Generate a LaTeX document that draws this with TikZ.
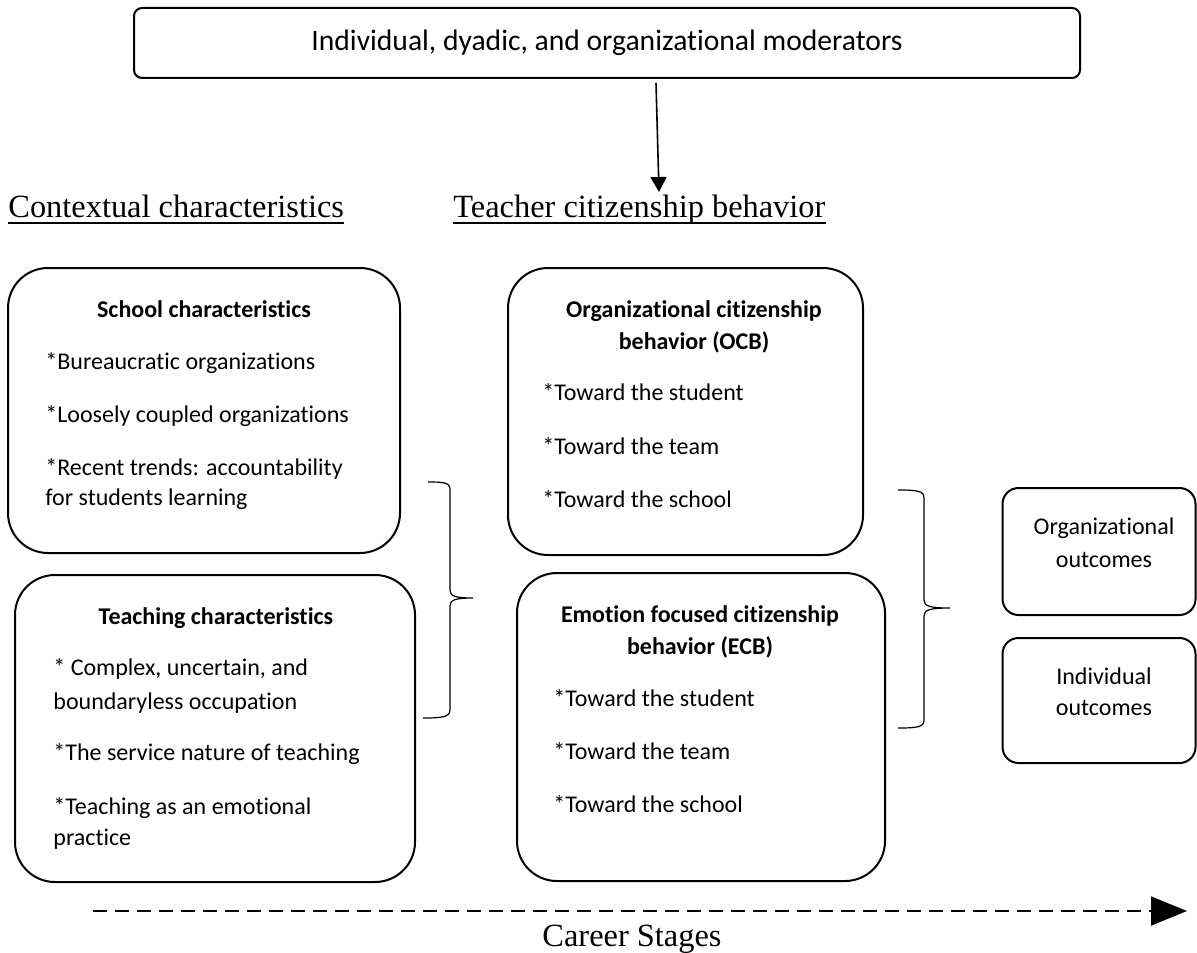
\documentclass[tikz,border=0pt]{standalone}
\usepackage{fontspec}
\setmainfont{Carlito}[Ligatures=NoCommon]
\newfontfamily\timesfont{Liberation Serif}
\usetikzlibrary{arrows.meta}

\tikzset{
  roundbox/.style={draw, line width=1pt, rounded corners=20pt, inner sep=0pt},
  outbox/.style={draw, line width=1pt, rounded corners=8pt, inner sep=0pt,
    minimum width=96.5pt},
  item/.style={anchor=base west, inner sep=0pt, font=\fontsize{12}{16}\selectfont},
  boxtitle/.style={anchor=base, inner sep=0pt, font=\fontsize{12}{16}\selectfont\bfseries},
  outtext/.style={anchor=base, inner sep=0pt, font=\fontsize{12}{16}\selectfont},
  heading/.style={anchor=base west, inner sep=0pt, font=\fontsize{16.2}{19}\selectfont\timesfont},
  bracket/.style={line width=0.6pt},
}

\begin{document}
\begin{tikzpicture}[x=0.5pt, y=-0.5pt]
    \useasboundingbox (0,0) rectangle (1197,952);

    % moderators
    \node[draw, line width=1pt, rounded corners=4pt, minimum width=473pt, minimum height=35pt,
      font=\fontsize{14.8}{17}\selectfont] (mod) at (607,43) {Individual, dyadic, and organizational moderators};
    \coordinate (modout) at (656,83);
    \coordinate (modin) at (659,192);
    \draw[line width=0.8pt, -{Triangle[length=7.5pt,width=8pt]}] (modout) -- (modin);

    % headings
    \node[heading] (ctx) at (8,218) {Contextual characteristics};
    \node[heading] (tcb) at (453,218) {Teacher citizenship behavior};
    \draw[line width=0.6pt] ([yshift=-2.5pt]ctx.base west) -- ([yshift=-2.5pt]ctx.base east);
    \draw[line width=0.6pt] ([yshift=-2.5pt]tcb.base west) -- ([yshift=-2.5pt]tcb.base east);

    % contextual boxes
    \node[roundbox, minimum width=196pt, minimum height=142.5pt] (school) at (204,410.5) {};
    \node[boxtitle] (schooltitle) at (204,317) {School characteristics};
    \node[item] (sc1) at (45,369) {*Bureaucratic organizations};
    \node[item] (sc2) at (45,422) {*Loosely coupled organizations};
    \node[item] (sc3) at (45,475) {*Recent trends: accountability};
    \node[item] (sc3b) at (45,505) {for students learning};

    \node[roundbox, minimum width=200pt, minimum height=153.5pt] (teach) at (215,728.5) {};
    \node[boxtitle] (teachtitle) at (216,624) {Teaching characteristics};
    \node[item] (tc1) at (53,675) {* Complex, uncertain, and};
    \node[item] (tc1b) at (53,709) {boundaryless occupation};
    \node[item] (tc2) at (53,760) {*The service nature of teaching};
    \node[item] (tc3) at (53,814) {*Teaching as an emotional};
    \node[item] (tc3b) at (53,845) {practice};

    % citizenship boxes
    \node[roundbox, minimum width=177.5pt, minimum height=143.5pt] (ocb) at (685.5,411.5) {};
    \node[boxtitle] (ocbtitle) at (694,317) {Organizational citizenship};
    \node[boxtitle] (ocbtitleb) at (694,349) {behavior (OCB)};
    \node[item] (ocb1) at (542,400) {*Toward the student};
    \node[item] (ocb2) at (542,454) {*Toward the team};
    \node[item] (ocb3) at (542,507) {*Toward the school};

    \node[roundbox, minimum width=184pt, minimum height=154pt] (ecb) at (701,727) {};
    \node[boxtitle] (ecbtitle) at (700,622) {Emotion focused citizenship};
    \node[boxtitle] (ecbtitleb) at (700,654) {behavior (ECB)};
    \node[item] (ecb1) at (553,706) {*Toward the student};
    \node[item] (ecb2) at (553,759) {*Toward the team};
    \node[item] (ecb3) at (553,812) {*Toward the school};

    % outcomes
    \node[outbox, minimum height=63.5pt] (orgout) at (1099,551.5) {};
    \node[outtext] (orgtext) at (1104,534) {Organizational};
    \node[outtext] (orgtextb) at (1104,567) {outcomes};
    \node[outbox, minimum height=62.5pt] (indout) at (1099,700.5) {};
    \node[outtext] (indtext) at (1104,684) {Individual};
    \node[outtext] (indtextb) at (1104,715) {outcomes};

    % braces
    \draw[bracket] (428,482) .. controls (446,482) and (450,483) .. (450,490) -- (450,590)
      .. controls (450,596) and (455,598) .. (473,598)
      .. controls (455,598) and (450,600) .. (450,606) -- (450,710)
      .. controls (450,717) and (442,718) .. (423,718);
    \draw[bracket] (898,490) .. controls (918,490) and (924,491) .. (924,498) -- (924,600)
      .. controls (924,606) and (929,608) .. (950,608)
      .. controls (929,608) and (924,610) .. (924,616) -- (924,720)
      .. controls (924,727) and (918,728) .. (898,728);

    % career stages
    \coordinate (cstart) at (93,911);
    \coordinate (cend) at (1187,911);
    \draw[line width=0.75pt, dash pattern=on 7pt off 4pt, -{Triangle[length=18pt,width=14.5pt]}] (cstart) -- (cend);
    \node[anchor=base, inner sep=0pt, font=\fontsize{16.2}{19}\selectfont\timesfont] (career) at (632,946) {Career Stages};
\end{tikzpicture}
\end{document}
